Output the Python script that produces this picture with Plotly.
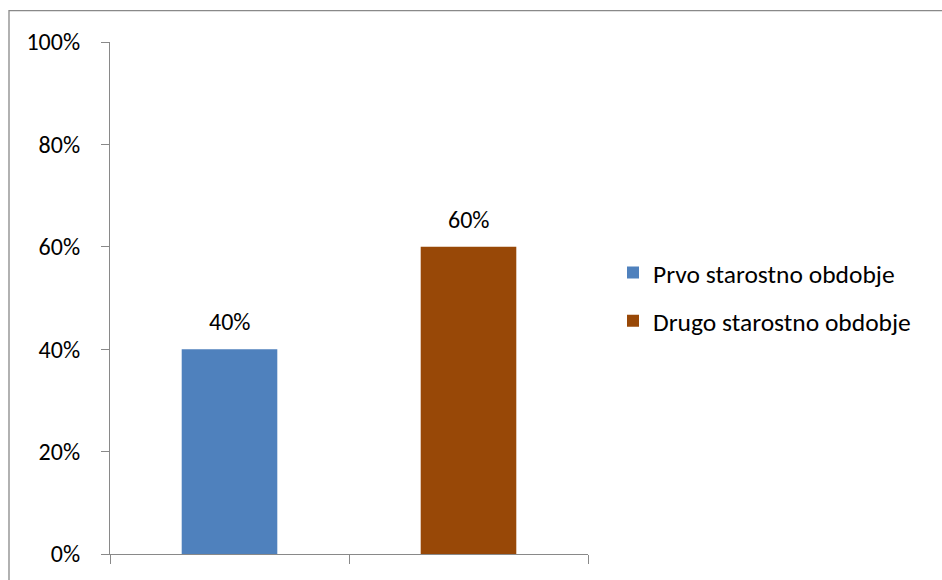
import plotly.graph_objects as go

categories = ["Prvo starostno obdobje", "Drugo starostno obdobje"]
values = [0.40, 0.60]
colors = ["#4F81BD", "#984807"]
y_ticks = [0, 0.2, 0.4, 0.6, 0.8, 1.0]
y_tick_labels = ["0%", "20%", "40%", "60%", "80%", "100%"]

FONT = "Calibri, Carlito, Lato, sans-serif"
FS = 24
FS_LEG = 25.5

W, H = 942, 580
L, R, T, B = 110, 354, 42, 24
pw = W - L - R
ph = H - T - B

fig = go.Figure()
for i, (c, v, col) in enumerate(zip(categories, values, colors)):
    fig.add_trace(go.Bar(
        x=[c], y=[v], name=c, marker=dict(color=col, line=dict(width=0)),
        width=0.4, legendgroup=c, showlegend=True,
    ))
    fig.add_annotation(
        x=c, y=v, text=f"{round(v*100)}%", showarrow=False,
        yanchor="bottom", yshift=11, font=dict(family=FONT, size=FS, color="#000000"),
    )

# outer chart border (partially cropped in the reference)
fig.add_shape(
    type="rect", xref="paper", yref="paper",
    x0=(9 - L) / pw, x1=(W + 20 - L) / pw,
    y0=-(B + 20) / ph, y1=1 + (T - 10.5) / ph,
    line=dict(color="#898989", width=1.3), fillcolor="rgba(0,0,0,0)", layer="above",
)

fig.update_layout(
    width=W, height=H,
    margin=dict(l=L, r=R, t=T, b=B, pad=0),
    paper_bgcolor="white", plot_bgcolor="white",
    barmode="overlay",
    font=dict(family=FONT, size=FS, color="#000000"),
    showlegend=True,
    legend=dict(
        x=(613 - L) / pw, xanchor="left",
        y=0.5 + (0.5 * ph - 298 + T) / ph, yanchor="middle",
        font=dict(family=FONT, size=FS_LEG, color="#000000"),
        traceorder="grouped", tracegroupgap=12,
        bgcolor="rgba(0,0,0,0)", borderwidth=0,
    ),
    xaxis=dict(
        type="category", categoryorder="array", categoryarray=categories,
        showticklabels=False, tickson="boundaries", ticks="outside",
        ticklen=9, tickcolor="#898989", tickwidth=1.3,
        showline=True, linecolor="#898989", linewidth=1.3,
        showgrid=False, zeroline=False, range=[-0.5, 1.5],
    ),
    yaxis=dict(
        range=[0, 1], tickmode="array", tickvals=y_ticks, ticktext=y_tick_labels,
        ticks="outside", ticklen=8, tickcolor="#898989", tickwidth=1.3,
        showline=True, linecolor="#898989", linewidth=1.3,
        showgrid=False, zeroline=False, ticklabelstandoff=16,
        tickfont=dict(family=FONT, size=FS, color="#000000"),
    ),
)

fig.write_html(
    "out.html",
    config={"displayModeBar": False},
    post_script="document.body.style.margin='0px';document.body.style.overflow='hidden';",
)
